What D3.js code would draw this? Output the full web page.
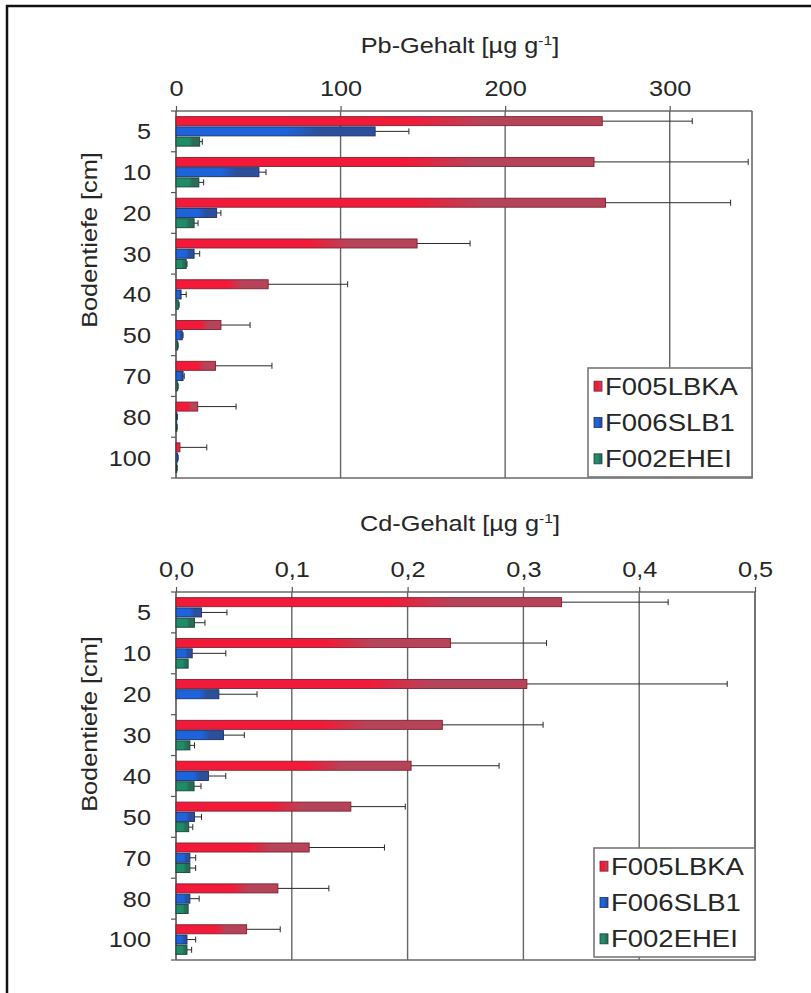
<!DOCTYPE html>
<html><head><meta charset="utf-8">
<script src="https://cdn.jsdelivr.net/npm/d3@7"></script>
<style>
body{margin:0;background:#fff}
text{font-family:"Liberation Sans",Arial,Helvetica,sans-serif;fill:#262626}
</style>
</head><body>
<svg id="chart" width="811" height="993"></svg>
<script>
// Soil depths (cm) and sampling sites
const depths = ["5","10","20","30","40","50","70","80","100"];
const siteNames = ["F005LBKA","F006SLB1","F002EHEI"];

// Pb content [µg/g] – means and standard deviations per depth
const pbF005 = [259, 254, 261, 146.5, 56, 27.3, 24, 13.2, 2.4];
const pbF005Sd = [54.7, 93.7, 76, 32.2, 48.3, 17.7, 34.3, 23.3, 16.3];
const pbF006 = [121, 50.4, 24.7, 11, 3.1, 3.8, 4.3, 0.5, 1];
const pbF006Sd = [20.5, 4.3, 2.6, 3.4, 3.1, 0.5, 0.7, 0.3, 0.3];
const pbF002 = [14.4, 13.9, 11, 6.2, 1.4, 1, 1, 0.5, 0.5];
const pbF002Sd = [1.6, 2.9, 2.4, 0.5, 0.5, 0.3, 0.3, 0.2, 0.2];
const pbTicks = [0, 100, 200, 300];

// Cd content [µg/g] – means and standard deviations per depth
const cdF005 = [0.333, 0.237, 0.303, 0.230, 0.203, 0.151, 0.115, 0.088, 0.061];
const cdF005Sd = [0.092, 0.083, 0.173, 0.087, 0.076, 0.047, 0.065, 0.044, 0.029];
const cdF006 = [0.022, 0.014, 0.037, 0.041, 0.028, 0.016, 0.012, 0.012, 0.0095];
const cdF006Sd = [0.022, 0.029, 0.033, 0.018, 0.015, 0.006, 0.005, 0.008, 0.0075];
const cdF002 = [0.016, 0.0105, 0, 0.012, 0.0156, 0.011, 0.012, 0.0105, 0.0095];
const cdF002Sd = [0.009, 0, 0, 0.004, 0.006, 0.0035, 0.005, 0, 0.004];
const cdTicks = [0, 0.1, 0.2, 0.3, 0.4, 0.5];

const siteColors = [
  {light: "#f21a38", dark: "#b64459", edge: "#7d2233"},
  {light: "#1c63dc", dark: "#2c4f9c", edge: "#1d2f66"},
  {light: "#1f8c68", dark: "#2a6c58", edge: "#174536"}
];

const svg = d3.select("#chart");
const FONT = 22;
const STRETCH = 1.15; // slightly wide lettering

// gradients: bright on the left, muted toward the bar end
const defs = svg.append("defs");
siteColors.forEach((c, i) => {
  const g = defs.append("linearGradient").attr("id", "grad" + i)
    .attr("x1", "0%").attr("x2", "100%").attr("y1", "0%").attr("y2", "0%");
  g.append("stop").attr("offset", "0%").attr("stop-color", c.light);
  g.append("stop").attr("offset", "55%").attr("stop-color", c.light);
  g.append("stop").attr("offset", "72%").attr("stop-color", c.dark);
  g.append("stop").attr("offset", "100%").attr("stop-color", c.dark);
});

// page frame
svg.append("path").attr("d", "M7,993 V6 H811")
  .attr("fill", "none").attr("stroke", "#111").attr("stroke-width", 2.5);

const fmtComma = d3.formatLocale({decimal: ",", thousands: ".", grouping: [3], currency: ["", "€"]}).format(".1f");

// text placed at (x, y), widened horizontally around its anchor
function label(parent, x, y, str, anchor, rotate, size, stretch) {
  const g = parent.append("g")
    .attr("transform", `translate(${x},${y})${rotate ? " rotate(" + rotate + ")" : ""} scale(${stretch || STRETCH},1)`);
  return g.append("text").attr("text-anchor", anchor).attr("font-size", size || FONT).text(str);
}

function drawPanel(cfg) {
  const x = d3.scaleLinear().domain(cfg.domain).range([cfg.left, cfg.right]);
  const y = d3.scaleBand().domain(depths).range([cfg.top, cfg.bottom]);
  const sub = d3.scaleBand().domain(siteNames).range([0, y.bandwidth()])
    .paddingInner(0.12).paddingOuter(0.55);
  const g = svg.append("g");

  // vertical gridlines
  g.selectAll(".grid").data(cfg.ticks.filter(t => t > 0)).join("line")
    .attr("x1", d => x(d)).attr("x2", d => x(d))
    .attr("y1", cfg.top).attr("y2", cfg.bottom)
    .attr("stroke", "#666").attr("stroke-width", 1.4);

  // plot border (right and bottom)
  g.append("path")
    .attr("d", `M${x(cfg.domain[1])},${cfg.top} V${cfg.bottom} H${cfg.left}`)
    .attr("fill", "none").attr("stroke", "#6a6a6a").attr("stroke-width", 1.6);

  // value axis on top
  const ax = d3.axisTop(x).tickValues(cfg.ticks).tickFormat(cfg.fmt)
    .tickSizeInner(5).tickSizeOuter(0).tickPadding(10);
  const axG = g.append("g").attr("transform", `translate(0,${cfg.top})`).call(ax);
  axG.select(".domain").attr("stroke", "#6a6a6a").attr("stroke-width", 1.6)
    .attr("d", `M${cfg.left},0 H${x(cfg.domain[1])}`);
  axG.selectAll(".tick line").attr("stroke", "#555").attr("stroke-width", 1.2);
  axG.selectAll(".tick text").attr("font-size", FONT).attr("fill", "#262626")
    .attr("font-family", '"Liberation Sans",Arial,sans-serif')
    .attr("transform", `scale(${STRETCH},1)`);

  // category axis on the left
  g.append("line").attr("x1", cfg.left).attr("x2", cfg.left)
    .attr("y1", cfg.top).attr("y2", cfg.bottom)
    .attr("stroke", "#555").attr("stroke-width", 1.6);
  depths.forEach(d => {
    label(g, cfg.left - 25, y(d) + y.bandwidth() / 2, d, "end").attr("dy", "0.36em");
  });
  const bounds = depths.map(d => y(d)).concat([cfg.bottom]);
  g.selectAll(".ctick").data(bounds).join("line")
    .attr("x1", cfg.left - 5).attr("x2", cfg.left)
    .attr("y1", d => d).attr("y2", d => d)
    .attr("stroke", "#555").attr("stroke-width", 1.2);

  // bars and error bars
  cfg.series.forEach((s, si) => {
    const name = siteNames[si];
    const rows = depths.map((d, i) => ({depth: d, v: s.values[i], sd: s.sd[i]}));
    const cy = r => y(r.depth) + sub(name) + sub.bandwidth() / 2;
    g.selectAll(null).data(rows.filter(r => r.v > 0)).join("rect")
      .attr("x", cfg.left)
      .attr("y", r => y(r.depth) + sub(name))
      .attr("width", r => x(r.v) - cfg.left)
      .attr("height", sub.bandwidth())
      .attr("fill", `url(#grad${si})`)
      .attr("stroke", siteColors[si].edge).attr("stroke-width", 0.9);
    const errRows = rows.filter(r => r.sd > 0);
    g.selectAll(null).data(errRows).join("line")
      .attr("x1", r => x(r.v)).attr("x2", r => x(r.v + r.sd))
      .attr("y1", cy).attr("y2", cy)
      .attr("stroke", "#2a2a2a").attr("stroke-width", 1);
    g.selectAll(null).data(errRows).join("line")
      .attr("x1", r => x(r.v + r.sd)).attr("x2", r => x(r.v + r.sd))
      .attr("y1", r => cy(r) - 3).attr("y2", r => cy(r) + 3)
      .attr("stroke", "#2a2a2a").attr("stroke-width", 1);
  });

  // axis titles
  const t = label(g, cfg.titleX, cfg.titleY, "", "middle");
  t.append("tspan").text(cfg.title + " [µg g");
  t.append("tspan").attr("font-size", FONT * 0.62).attr("dy", -8).text("-1");
  t.append("tspan").attr("dy", 8).text("]");

  label(g, cfg.yTitleX, cfg.yTitleY, "Bodentiefe [cm]", "middle", -90);

  // legend
  const L = cfg.legend;
  const lg = g.append("g");
  lg.append("rect").attr("x", L.x).attr("y", L.y).attr("width", L.w).attr("height", L.h)
    .attr("fill", "#fff").attr("stroke", "#777").attr("stroke-width", 1.6);
  siteNames.forEach((n, i) => {
    const cy = L.y + L.h / 6 + i * L.h / 3;
    lg.append("rect").attr("x", L.x + 6).attr("y", cy - 5).attr("width", 8).attr("height", 10)
      .attr("fill", `url(#grad${i})`).attr("stroke", siteColors[i].edge).attr("stroke-width", 0.8);
    label(lg, L.x + 17, cy, n, "start", 0, 23.5, 1.17).attr("dy", "0.36em");
  });
}

drawPanel({
  top: 111, bottom: 478, left: 176, right: 752, domain: [0, 350], ticks: pbTicks,
  fmt: d3.format("d"), title: "Pb-Gehalt", titleX: 460, titleY: 53,
  yTitleX: 97, yTitleY: 240,
  series: [{values: pbF005, sd: pbF005Sd}, {values: pbF006, sd: pbF006Sd}, {values: pbF002, sd: pbF002Sd}],
  legend: {x: 588, y: 368, w: 164, h: 109}
});

drawPanel({
  top: 592, bottom: 960, left: 176, right: 755, domain: [0, 0.5], ticks: cdTicks,
  fmt: fmtComma, title: "Cd-Gehalt", titleX: 460, titleY: 531,
  yTitleX: 97, yTitleY: 724,
  series: [{values: cdF005, sd: cdF005Sd}, {values: cdF006, sd: cdF006Sd}, {values: cdF002, sd: cdF002Sd}],
  legend: {x: 594, y: 848, w: 161, h: 109}
});
</script>
</body></html>
